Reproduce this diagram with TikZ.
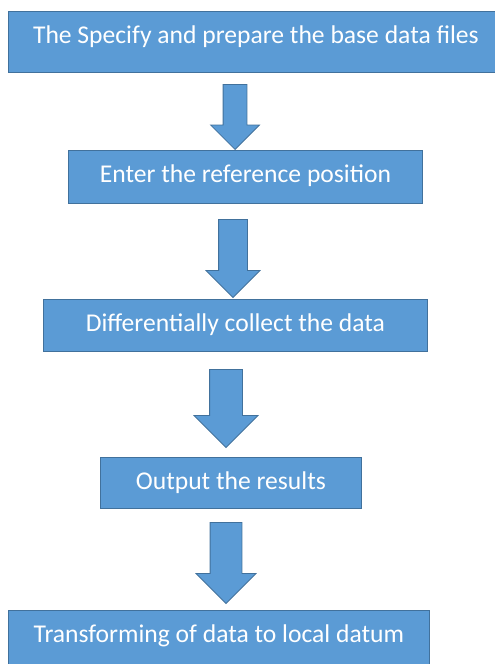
\documentclass[tikz,border=0pt]{standalone}
\usepackage{fontspec}
\setmainfont{Carlito}
\usetikzlibrary{positioning,shapes.arrows}
\definecolor{boxblue}{HTML}{5B9BD5}
\definecolor{boxedge}{HTML}{41719C}

\begin{document}
\begin{tikzpicture}[x=1pt,y=-1pt]
        \tikzset{stepbox/.style={draw=boxedge,fill=boxblue,line width=0.8pt,text=white,inner sep=0pt,anchor=north west,text height=32pt,font=\fontsize{25.6}{30}\selectfont}}
        \tikzset{flowarrow/.style={single arrow,draw=boxedge,fill=boxblue,line width=0.8pt,inner xsep=0pt,rotate=-90,anchor=tip,single arrow head indent=0pt}}

        \useasboundingbox (0,0) rectangle (495,664);

        \node[stepbox,minimum width=495pt,text depth=29pt] (s1) at (8,11) {The Specify and prepare the base data files};
        \node[stepbox,minimum width=354pt,text depth=21pt] (s2) at (68,150) {Enter the reference position};
        \node[stepbox,minimum width=384pt,text depth=20pt] (s3) at (43,299) {Differentially collect the data};
        \node[stepbox,minimum width=261pt,text depth=19pt] (s4) at (100,457) {Output the results};
        \node[stepbox,minimum width=421pt,text depth=29pt] (s5) at (8,610) {Transforming of data to local datum};

        \node[flowarrow,minimum height=65pt,inner ysep=11.5pt,single arrow head extend=12.5pt] (a1) at (235,150) {};
        \node[flowarrow,minimum height=78pt,inner ysep=14pt,single arrow head extend=12.5pt] (a2) at (233,298) {};
        \node[flowarrow,minimum height=78pt,inner ysep=16pt,single arrow head extend=15.5pt] (a3) at (226,448) {};
        \node[flowarrow,minimum height=81pt,inner ysep=15.5pt,single arrow head extend=14pt] (a4) at (226,604) {};
    \end{tikzpicture}
\end{document}
